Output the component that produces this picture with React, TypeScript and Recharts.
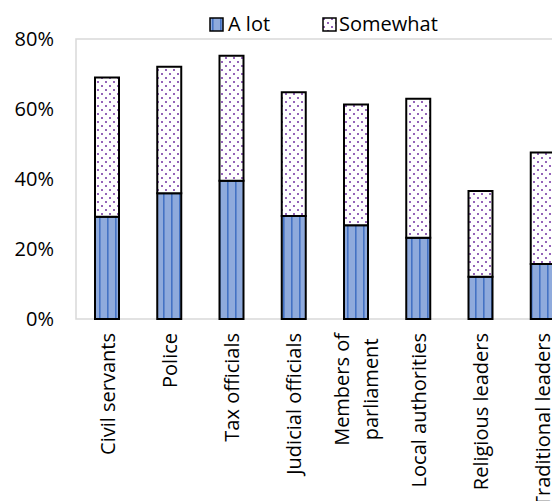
import React from "react";
import { BarChart, Bar, XAxis, YAxis, ReferenceArea } from "recharts";

const categories = [
  "Civil servants",
  "Police",
  "Tax officials",
  "Judicial officials",
  "Members of parliament",
  "Local authorities",
  "Religious leaders",
  "Traditional leaders",
];
const aLot = [29.2, 35.9, 39.5, 29.4, 26.8, 23.2, 12.1, 15.7];
const somewhat = [39.8, 36.2, 35.7, 35.4, 34.5, 39.7, 24.5, 31.9];
const yTicks = [0, 20, 40, 60, 80];

const data = categories.map((name, i) => ({
  name,
  aLot: aLot[i],
  somewhat: somewhat[i],
}));

const FONT = "'Open Sans', sans-serif";
const FS = 20;

let ctx: CanvasRenderingContext2D | null = null;
function measure(t: string): number {
  try {
    if (!ctx) ctx = document.createElement("canvas").getContext("2d");
    if (ctx) {
      ctx.font = `${FS}px 'Open Sans'`;
      return ctx.measureText(t).width;
    }
  } catch (e) {}
  return t.length * 10;
}

function splitLabel(s: string): string[] {
  if (s.length <= 20) return [s];
  const mid = s.length / 2;
  let best = -1;
  for (let i = 0; i < s.length; i++) {
    if (s[i] === " " && (best < 0 || Math.abs(i - mid) < Math.abs(best - mid))) best = i;
  }
  if (best < 0) return [s];
  return [s.slice(0, best), s.slice(best + 1)];
}

const XTick = (props: any) => {
  const { x, y, payload } = props;
  const lines = splitLabel(String(payload.value));
  const lh = 29;
  const maxW = Math.max(...lines.map(measure));
  return (
    <g transform={`translate(${x},${y + 14})`}>
      {lines.map((ln, i) => (
        <text
          key={i}
          transform="rotate(-90)"
          x={lines.length > 1 ? -maxW / 2 : 0}
          y={(i - (lines.length - 1) / 2) * lh}
          textAnchor={lines.length > 1 ? "middle" : "end"}
          dominantBaseline="central"
          fontFamily={FONT}
          fontSize={FS}
          fill="#000"
        >
          {ln}
        </text>
      ))}
    </g>
  );
};

const Swatch = ({ fill }: { fill: string }) => (
  <svg width={15} height={15} style={{ display: "block" }}>
    <rect x={1} y={1} width={13} height={13} fill={fill} stroke="#000" strokeWidth={1.5} />
  </svg>
);

export default function App() {
  return (
    <div style={{ position: "relative", width: 552, height: 493, overflow: "hidden", fontFamily: FONT }}>
      <svg width={0} height={0} style={{ position: "absolute" }}>
        <defs>
          <pattern id="stripes" patternUnits="userSpaceOnUse" width={8} height={8}>
            <rect x={0} y={0} width={8} height={8} fill="#8FAADC" />
            <rect x={3} y={0} width={1.6} height={8} fill="#4472C4" />
          </pattern>
          <pattern id="dots" patternUnits="userSpaceOnUse" width={8} height={8}>
            <rect x={0} y={0} width={8} height={8} fill="#FFFFFF" />
            <circle cx={2} cy={2} r={1} fill="#7030A0" />
            <circle cx={6} cy={6} r={1} fill="#7030A0" />
          </pattern>
        </defs>
      </svg>
      <div
        style={{
          position: "absolute",
          top: 5,
          left: 201,
          display: "flex",
          alignItems: "center",
          fontSize: FS,
          color: "#000",
          lineHeight: "22px",
        }}
      >
        <Swatch fill="url(#stripes)" />
        <span style={{ marginLeft: 4 }}>A lot</span>
        <span style={{ width: 52 }} />
        <Swatch fill="url(#dots)" />
        <span style={{ marginLeft: 2 }}>Somewhat</span>
      </div>
      <BarChart
        width={580}
        height={493}
        data={data}
        margin={{ top: 31, right: 14, left: 0, bottom: 0 }}
        barCategoryGap="0%"
      >
        <ReferenceArea y1={0} y2={80} fill="none" stroke="#D9D9D9" strokeWidth={1.5} ifOverflow="visible" />
        <XAxis
          dataKey="name"
          interval={0}
          tickLine={false}
          axisLine={false}
          tickSize={0}
          tickMargin={0}
          height={182}
          tick={<XTick />}
        />
        <YAxis
          width={68}
          domain={[0, 80]}
          ticks={yTicks}
          tickFormatter={(v: number) => `${v}%`}
          tickLine={false}
          axisLine={false}
          tickSize={0}
          tickMargin={22}
          tick={{ fontFamily: FONT, fontSize: FS, fill: "#000" }}
        />
        <Bar dataKey="aLot" stackId="s" fill="url(#stripes)" stroke="#000" strokeWidth={2} barSize={24} isAnimationActive={false} />
        <Bar dataKey="somewhat" stackId="s" fill="url(#dots)" stroke="#000" strokeWidth={2} barSize={24} isAnimationActive={false} />
      </BarChart>
    </div>
  );
}
